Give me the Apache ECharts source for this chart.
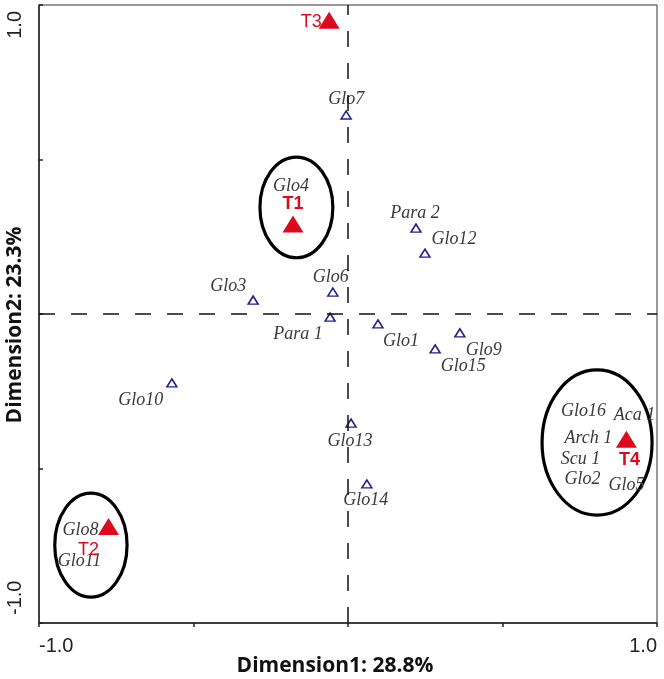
<!DOCTYPE html>
<html>
<head>
<meta charset="utf-8">
<script src="https://cdn.jsdelivr.net/npm/echarts@6/dist/echarts.min.js"></script>
<style>
  html, body { margin: 0; padding: 0; background: #fff; }
  #chart { width: 664px; height: 679px; }
</style>
</head>
<body>
<div id="chart"></div>
<script>
// ---------------- DATA ----------------
const treatmentNames = ['T1', 'T2', 'T3', 'T4'];
const treatmentX = [-0.178, -0.775, -0.061, 0.901];
const treatmentY = [0.291, -0.688, 0.951, -0.405];

const speciesNames = ['Glo7', 'Glo6', 'Glo3', 'Para 1', 'Para 2', 'Glo12', 'Glo1', 'Glo9', 'Glo15',
  'Glo10', 'Glo13', 'Glo14', 'Glo4', 'Glo8', 'Glo11', 'Glo16', 'Aca 1', 'Arch 1', 'Scu 1', 'Glo2', 'Glo5'];
const speciesX = [-0.006, -0.049, -0.307, -0.058, 0.220, 0.249, 0.097, 0.362, 0.282,
  -0.570, 0.010, 0.061, -0.178, -0.775, -0.775, 0.901, 0.901, 0.901, 0.901, 0.901, 0.901];
const speciesY = [0.644, 0.071, 0.045, -0.010, 0.278, 0.197, -0.032, -0.061, -0.113,
  -0.223, -0.353, -0.550, 0.291, -0.688, -0.688, -0.405, -0.405, -0.405, -0.405, -0.405, -0.405];

// group ellipses (centre x, centre y, radius x, radius y in data units)
const groupCx = [-0.167, 0.806, -0.832];
const groupCy = [0.345, -0.416, -0.748];
const groupRx = [0.118, 0.178, 0.117];
const groupRy = [0.163, 0.235, 0.168];

const xTickLabels = { '-1': '-1.0', '1': '1.0' };
const yTickLabels = { '-1': '-1.0', '1': '1.0' };
const xAxisName = 'Dimension1: 28.8%';
const yAxisName = 'Dimension2: 23.3%';

// ---------------- STYLE (label placement, px) ----------------
const speciesLabelOffset = {
  'Glo7': [0, -16], 'Glo6': [-2, -15], 'Glo3': [-25, -14], 'Para 1': [-32, 17], 'Para 2': [-1, -15],
  'Glo12': [29, -14], 'Glo1': [23, 17], 'Glo9': [24, 17], 'Glo15': [28, 17], 'Glo10': [-31, 17],
  'Glo13': [-1, 18], 'Glo14': [-1, 16], 'Glo4': [-2, -38], 'Glo8': [-28, 4], 'Glo11': [-29, 35],
  'Glo16': [-43, -28], 'Aca 1': [8, -24], 'Arch 1': [-38, -1], 'Scu 1': [-46, 20], 'Glo2': [-44, 40],
  'Glo5': [0, 46]
};
const treatmentLabelStyle = {
  'T1': { offset: [0, -20], fontWeight: 'bold' },
  'T2': { offset: [-20, 23], fontWeight: 'normal' },
  'T3': { offset: [-18, 2], fontWeight: 'normal' },
  'T4': { offset: [3, 21], fontWeight: 'bold' }
};
const RED = '#dc0a1e';
const BLUE = '#1f1f8f';
const LABEL_BASE = { show: true, position: 'inside', formatter: '{b}' };

const speciesData = speciesNames.map((n, i) => ({
  name: n,
  value: [speciesX[i], speciesY[i]],
  label: Object.assign({}, LABEL_BASE, {
    offset: speciesLabelOffset[n],
    fontFamily: 'Liberation Serif', fontStyle: 'italic', fontSize: 18, color: '#3a3a3a'
  })
}));
const treatmentData = treatmentNames.map((n, i) => ({
  name: n,
  value: [treatmentX[i], treatmentY[i]],
  label: Object.assign({}, LABEL_BASE, {
    offset: treatmentLabelStyle[n].offset,
    fontWeight: treatmentLabelStyle[n].fontWeight,
    fontFamily: 'Liberation Sans', fontSize: 18, color: RED
  })
}));
const ellipseData = groupCx.map((c, i) => [c, groupCy[i], groupRx[i], groupRy[i]]);

const chart = echarts.init(document.getElementById('chart'), null, { renderer: 'canvas' });

const option = {
  animation: false,
  backgroundColor: '#ffffff',
  grid: {
    left: 39, right: 7, top: 5, bottom: 56,
    show: true, borderColor: '#333', borderWidth: 1,
    containLabel: false,
    outerBoundsMode: 'none'
  },
  xAxis: {
    type: 'value', min: -1, max: 1, interval: 0.5,
    position: 'bottom',
    name: xAxisName, nameLocation: 'middle', nameGap: 33, nameMoveOverlap: false,
    nameTextStyle: { fontFamily: 'Open Sans', fontWeight: 'bold', fontSize: 21, color: '#111', padding: [0, 26, 0, 0] },
    axisLine: { show: true, onZero: false, lineStyle: { color: '#222', width: 1.5 } },
    axisTick: { show: true, inside: false, length: 4, lineStyle: { color: '#222', width: 1.5 } },
    axisLabel: {
      show: true, margin: 13,
      fontFamily: 'Liberation Sans', fontSize: 20, color: '#222',
      alignMinLabel: 'left', alignMaxLabel: 'right',
      formatter: v => xTickLabels[String(v)] || ''
    },
    splitLine: { show: false }
  },
  yAxis: {
    type: 'value', min: -1, max: 1, interval: 0.5,
    position: 'left',
    name: yAxisName, nameLocation: 'middle', nameGap: 13, nameMoveOverlap: false,
    nameTextStyle: { fontFamily: 'Open Sans', fontWeight: 'bold', fontSize: 21, color: '#111', padding: [0, 22, 0, 0] },
    axisLine: { show: true, onZero: false, lineStyle: { color: '#222', width: 1.5 } },
    axisTick: { show: true, inside: true, length: 4, lineStyle: { color: '#222', width: 1.5 } },
    axisLabel: {
      show: true, margin: 14, rotate: 90,
      fontFamily: 'Liberation Sans', fontSize: 20, color: '#222',
      alignMinLabel: 'left', alignMaxLabel: 'right',
      formatter: v => {
        const t = yTickLabels[String(v)];
        if (!t) return '';
        return v < 0 ? '{mn|' + t + '}' : '{mx|' + t + '}';
      },
      rich: {
        mn: { fontFamily: 'Liberation Sans', fontSize: 20, color: '#222', padding: [0, 0, 0, 8] },
        mx: { fontFamily: 'Liberation Sans', fontSize: 20, color: '#222', padding: [0, 6, 0, 0] }
      }
    },
    splitLine: { show: false }
  },
  series: [
    {
      type: 'custom',
      name: 'groups',
      z: 1,
      silent: true,
      data: ellipseData,
      renderItem: function (params, api) {
        const c = api.coord([api.value(0), api.value(1)]);
        const s = api.size([api.value(2), api.value(3)]);
        return {
          type: 'ellipse',
          shape: { cx: c[0], cy: c[1], rx: s[0], ry: s[1] },
          style: { fill: 'none', stroke: '#000', lineWidth: 3.2 }
        };
      },
      markLine: {
        silent: true,
        symbol: 'none',
        label: { show: false },
        lineStyle: { color: '#111', width: 1.5, type: [16, 16] },
        data: [{ xAxis: 0 }, { yAxis: 0 }]
      }
    },
    {
      type: 'scatter',
      name: 'species',
      z: 3,
      symbol: 'triangle',
      symbolSize: [10, 8],
      itemStyle: { color: '#ffffff', borderColor: BLUE, borderWidth: 1.5, opacity: 1 },
      data: speciesData
    },
    {
      type: 'scatter',
      name: 'treatments',
      z: 5,
      symbol: 'triangle',
      symbolSize: [21, 17],
      itemStyle: { color: RED, opacity: 1 },
      data: treatmentData
    }
  ]
};
chart.setOption(option);
</script>
</body>
</html>
